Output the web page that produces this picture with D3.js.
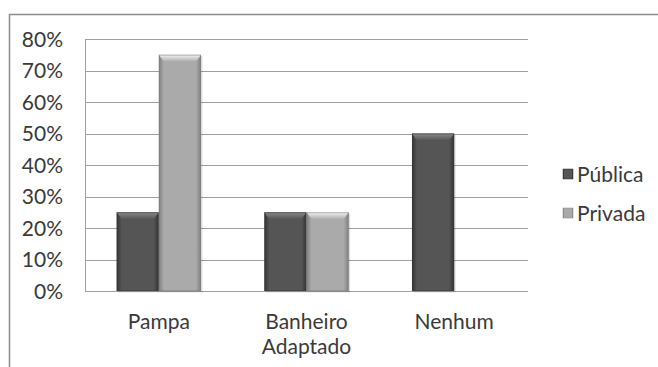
<!DOCTYPE html>
<html><head><meta charset="utf-8">
<script src="https://cdn.jsdelivr.net/npm/d3@7"></script>
<style>body{margin:0;background:#fff}svg{display:block}text{font-family:Lato,"Open Sans",sans-serif;fill:#3a3a3a}</style>
</head><body>
<svg id="c" width="658" height="367"></svg>
<script>
const categories = [["Pampa"], ["Banheiro", "Adaptado"], ["Nenhum"]];
const seriesNames = ["Pública", "Privada"];
const publica = [0.25, 0.25, 0.50];
const privada = [0.75, 0.25, 0];
const yTicks = [0, 0.1, 0.2, 0.3, 0.4, 0.5, 0.6, 0.7, 0.8];

const svg = d3.select("#c");
const defs = svg.append("defs");
const M = {l: 85, r: 528, t: 39, b: 291};
const FS = 21;

function grad(id, edge, mid) {
  const g = defs.append("linearGradient").attr("id", id).attr("x1", 0).attr("x2", 1).attr("y1", 0).attr("y2", 0);
  g.append("stop").attr("offset", "0").attr("stop-color", edge);
  g.append("stop").attr("offset", "0.12").attr("stop-color", mid);
  g.append("stop").attr("offset", "0.88").attr("stop-color", mid);
  g.append("stop").attr("offset", "1").attr("stop-color", edge);
}
grad("gPub", "#333", "#555");
grad("gPri", "#7e7e7e", "#aaa");
function topGrad(id, light, base) {
  const g = defs.append("linearGradient").attr("id", id).attr("x1", 0).attr("x2", 0).attr("y1", 0).attr("y2", 1);
  g.append("stop").attr("offset", "0").attr("stop-color", light);
  g.append("stop").attr("offset", "1").attr("stop-color", base);
}
topGrad("tPub", "#8a8a8a", "#555");
topGrad("tPri", "#f4f4f4", "#aaa");

// outer frame
svg.append("rect").attr("x", 9.5).attr("y", 14.5).attr("width", 700).attr("height", 400)
  .attr("fill", "none").attr("stroke", "#8c8c8c").attr("stroke-width", 1.5);

const x0 = d3.scaleBand().domain(d3.range(categories.length)).range([M.l, M.r]).paddingInner(0).paddingOuter(0);
const bw = x0.bandwidth() * 2 / 7; // gap width 150%
const y = d3.scaleLinear().domain([0, 0.8]).range([M.b, M.t]);

// gridlines
svg.append("g").selectAll("line").data(yTicks).join("line")
  .attr("x1", M.l).attr("x2", M.r).attr("y1", d => Math.round(y(d)) + 0.5).attr("y2", d => Math.round(y(d)) + 0.5)
  .attr("stroke", "#a0a0a0").attr("stroke-width", 1);
svg.append("line").attr("x1", M.l + 0.5).attr("x2", M.l + 0.5).attr("y1", Math.round(y(0.8)) + 0.5).attr("y2", Math.round(y(0)) + 0.5)
  .attr("stroke", "#a0a0a0");

// y labels
const yAxis = d3.axisLeft(y).tickValues(yTicks).tickFormat(d3.format(".0%")).tickSize(0).tickPadding(0);
const ga = svg.append("g").attr("transform", "translate(63,0)").call(yAxis);
ga.select(".domain").remove();
ga.selectAll("text").attr("font-size", FS).attr("fill", "#3a3a3a").attr("font-family", "Lato,'Open Sans',sans-serif").attr("dy", "0.34em");

// bars
const series = [publica, privada];
const fills = [["url(#gPub)", "url(#tPub)", "#3a3a3a"], ["url(#gPri)", "url(#tPri)", "#808080"]];
series.forEach((vals, si) => {
  const g = svg.append("g");
  vals.forEach((v, ci) => {
    if (v <= 0) return;
    const cx = x0(ci) + x0.bandwidth() / 2;
    const bx = cx - bw + si * bw;
    const by = y(v), bh = y(0) - y(v);
    g.append("rect").attr("x", bx + 1.5).attr("y", by + 1.5).attr("width", bw).attr("height", bh).attr("fill", "#000").attr("opacity", 0.12);
    g.append("rect").attr("x", bx).attr("y", by).attr("width", bw).attr("height", bh).attr("fill", fills[si][0]);
    g.append("path").attr("d", `M${bx},${by}L${bx + bw},${by}L${bx + bw - 5},${by + 7}L${bx + 5},${by + 7}Z`).attr("fill", fills[si][1]);
    g.append("rect").attr("x", bx + 0.5).attr("y", by + 0.5).attr("width", bw - 1).attr("height", bh - 1).attr("fill", "none").attr("stroke", fills[si][2]).attr("stroke-opacity", 0.5);
  });
});

// category labels
const xl = svg.append("g");
categories.forEach((lines, ci) => {
  const t = xl.append("text").attr("text-anchor", "middle").attr("font-size", FS)
    .attr("x", x0(ci) + x0.bandwidth() / 2).attr("y", 329);
  lines.forEach((ln, i) => t.append("tspan").attr("x", x0(ci) + x0.bandwidth() / 2).attr("dy", i ? 25 : 0).text(ln));
});

// legend
const lg = svg.append("g");
seriesNames.forEach((n, i) => {
  const yy = 174 + i * 39;
  lg.append("rect").attr("x", 563).attr("y", yy - 5).attr("width", 10).attr("height", 10).attr("fill", i ? "url(#gPri)" : "url(#gPub)").attr("stroke", i ? "#888" : "#333").attr("stroke-width", 0.5);
  lg.append("text").attr("x", 577).attr("y", yy).attr("dy", "0.36em").attr("font-size", FS).text(n);
});
</script>
</body></html>
